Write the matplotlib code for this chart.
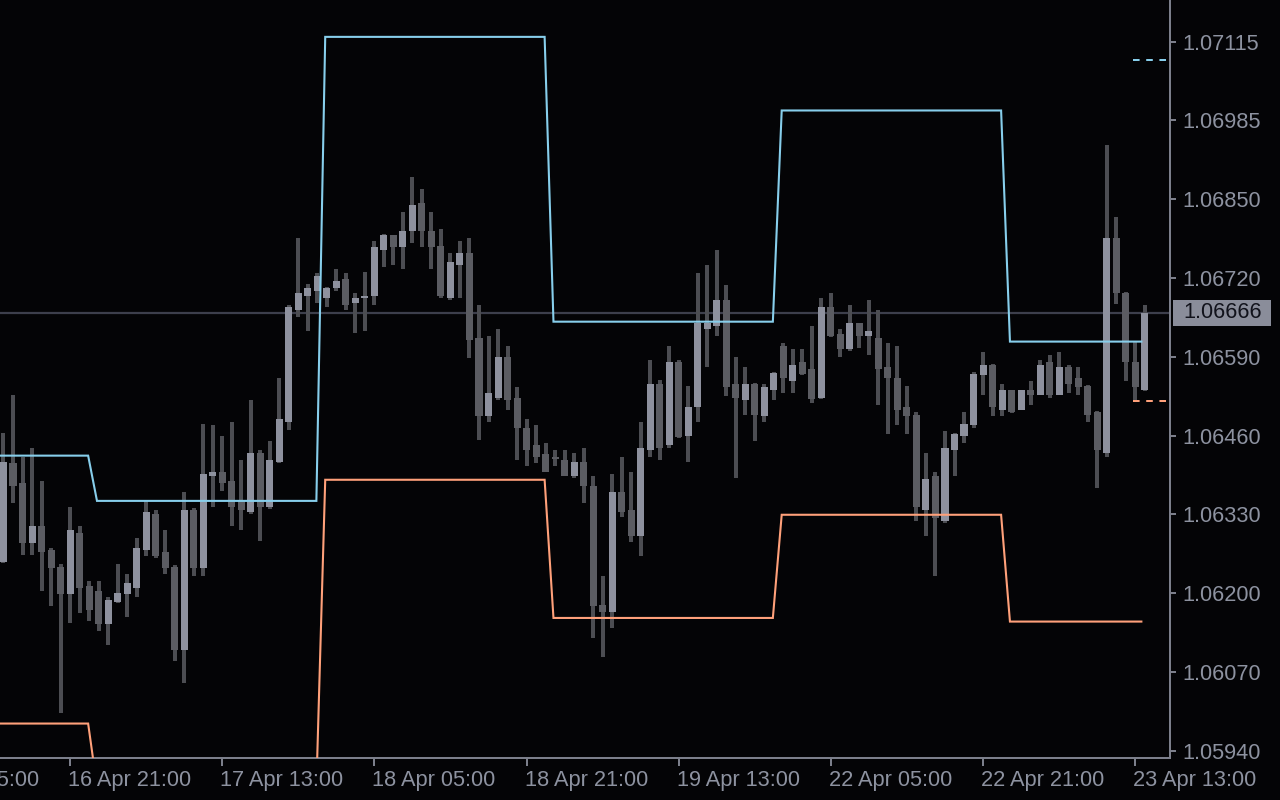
import matplotlib
matplotlib.use('Agg')
import matplotlib.pyplot as plt
import matplotlib.transforms as mtransforms
from matplotlib.patches import Rectangle
import numpy as np

# EURUSD H1 bars, 16 Apr 02:00 .. 23 Apr 14:00
opens = [1.06252, 1.06416, 1.06384, 1.06285, 1.06313, 1.06273, 1.06245, 1.06199, 1.06301, 1.06213,
         1.06205, 1.06150, 1.06187, 1.06199, 1.06210, 1.06273, 1.06333, 1.06270, 1.06245, 1.06107,
         1.06339, 1.06242, 1.06396, 1.06402, 1.06387, 1.06353, 1.06336, 1.06434, 1.06344, 1.06419,
         1.06485, 1.06671, 1.06694, 1.06702, 1.06691, 1.06707, 1.06722, 1.06682, 1.06691, 1.06694,
         1.06770, 1.06794, 1.06774, 1.06802, 1.06848, 1.06802, 1.06777, 1.06691, 1.06745, 1.06765,
         1.06624, 1.06494, 1.06525, 1.06593, 1.06525, 1.06474, 1.06447, 1.06431, 1.06426, 1.06422,
         1.06396, 1.06419, 1.06379, 1.06182, 1.06170, 1.06368, 1.06339, 1.06296, 1.06439, 1.06548,
         1.06447, 1.06585, 1.06462, 1.06510, 1.06639, 1.06644, 1.06687, 1.06548, 1.06522, 1.06548,
         1.06494, 1.06537, 1.06611, 1.06553, 1.06585, 1.06573, 1.06525, 1.06676, 1.06631, 1.06605,
         1.06648, 1.06628, 1.06624, 1.06576, 1.06557, 1.06510, 1.06497, 1.06339, 1.06396, 1.06320,
         1.06439, 1.06462, 1.06479, 1.06562, 1.06580, 1.06505, 1.06537, 1.06505, 1.06537, 1.06530,
         1.06585, 1.06530, 1.06576, 1.06557, 1.06545, 1.06502, 1.06434, 1.06790, 1.06699, 1.06585,
         1.06537]
highs = [1.06467, 1.06530, 1.06427, 1.06442, 1.06387, 1.06276, 1.06250, 1.06344, 1.06313, 1.06222,
         1.06222, 1.06194, 1.06250, 1.06233, 1.06293, 1.06353, 1.06339, 1.06305, 1.06247, 1.06368,
         1.06343, 1.06482, 1.06479, 1.06462, 1.06485, 1.06422, 1.06522, 1.06439, 1.06454, 1.06557,
         1.06679, 1.06790, 1.06714, 1.06731, 1.06708, 1.06739, 1.06731, 1.06699, 1.06734, 1.06785,
         1.06797, 1.06795, 1.06833, 1.06891, 1.06871, 1.06833, 1.06805, 1.06765, 1.06785, 1.06790,
         1.06679, 1.06628, 1.06639, 1.06611, 1.06542, 1.06490, 1.06479, 1.06450, 1.06439, 1.06439,
         1.06434, 1.06442, 1.06396, 1.06230, 1.06399, 1.06427, 1.06402, 1.06485, 1.06588, 1.06555,
         1.06611, 1.06587, 1.06545, 1.06731, 1.06745, 1.06770, 1.06711, 1.06593, 1.06576, 1.06550,
         1.06548, 1.06568, 1.06616, 1.06605, 1.06605, 1.06644, 1.06691, 1.06699, 1.06639, 1.06679,
         1.06649, 1.06687, 1.06671, 1.06616, 1.06611, 1.06545, 1.06502, 1.06434, 1.06402, 1.06470,
         1.06466, 1.06502, 1.06568, 1.06600, 1.06581, 1.06548, 1.06538, 1.06538, 1.06553, 1.06588,
         1.06596, 1.06600, 1.06580, 1.06576, 1.06546, 1.06503, 1.06943, 1.06825, 1.06700, 1.06618,
         1.06679]
lows = [1.06251, 1.06351, 1.06265, 1.06265, 1.06205, 1.06179, 1.06003, 1.06152, 1.06169, 1.06155,
        1.06139, 1.06116, 1.06184, 1.06162, 1.06194, 1.06262, 1.06260, 1.06233, 1.06088, 1.06053,
        1.06230, 1.06230, 1.06344, 1.06371, 1.06313, 1.06305, 1.06333, 1.06288, 1.06341, 1.06417,
        1.06472, 1.06659, 1.06636, 1.06682, 1.06676, 1.06702, 1.06671, 1.06633, 1.06636, 1.06679,
        1.06742, 1.06745, 1.06739, 1.06782, 1.06774, 1.06739, 1.06691, 1.06687, 1.06691, 1.06590,
        1.06455, 1.06485, 1.06522, 1.06505, 1.06422, 1.06411, 1.06416, 1.06402, 1.06411, 1.06396,
        1.06392, 1.06351, 1.06127, 1.06096, 1.06144, 1.06328, 1.06286, 1.06262, 1.06427, 1.06422,
        1.06442, 1.06459, 1.06419, 1.06485, 1.06576, 1.06628, 1.06527, 1.06392, 1.06497, 1.06454,
        1.06485, 1.06522, 1.06533, 1.06533, 1.06563, 1.06517, 1.06523, 1.06626, 1.06593, 1.06603,
        1.06608, 1.06596, 1.06513, 1.06465, 1.06479, 1.06465, 1.06320, 1.06296, 1.06230, 1.06318,
        1.06396, 1.06450, 1.06475, 1.06530, 1.06494, 1.06494, 1.06500, 1.06504, 1.06513, 1.06529,
        1.06525, 1.06529, 1.06533, 1.06530, 1.06485, 1.06376, 1.06427, 1.06681, 1.06553, 1.06522,
        1.06536]
closes = [1.06419, 1.06379, 1.06285, 1.06313, 1.06270, 1.06242, 1.06199, 1.06305, 1.06210, 1.06174,
          1.06150, 1.06190, 1.06202, 1.06218, 1.06276, 1.06336, 1.06262, 1.06242, 1.06107, 1.06339,
          1.06242, 1.06399, 1.06402, 1.06384, 1.06344, 1.06339, 1.06434, 1.06344, 1.06422, 1.06490,
          1.06676, 1.06699, 1.06707, 1.06726, 1.06707, 1.06719, 1.06679, 1.06691, 1.06694, 1.06774,
          1.06794, 1.06774, 1.06802, 1.06845, 1.06802, 1.06774, 1.06694, 1.06750, 1.06765, 1.06620,
          1.06494, 1.06533, 1.06593, 1.06522, 1.06474, 1.06439, 1.06427, 1.06402, 1.06424, 1.06396,
          1.06419, 1.06378, 1.06179, 1.06170, 1.06368, 1.06336, 1.06296, 1.06442, 1.06548, 1.06442,
          1.06585, 1.06460, 1.06510, 1.06649, 1.06649, 1.06687, 1.06542, 1.06525, 1.06548, 1.06497,
          1.06542, 1.06566, 1.06557, 1.06580, 1.06565, 1.06523, 1.06676, 1.06628, 1.06605, 1.06648,
          1.06628, 1.06636, 1.06573, 1.06557, 1.06505, 1.06494, 1.06344, 1.06391, 1.06326, 1.06442,
          1.06465, 1.06482, 1.06565, 1.06580, 1.06510, 1.06537, 1.06502, 1.06537, 1.06530, 1.06580,
          1.06530, 1.06576, 1.06548, 1.06542, 1.06497, 1.06439, 1.06790, 1.06699, 1.06585, 1.06542,
          1.06666]

# daily band indicator: bar index where each new day starts, level per day
day_starts = [10, 34, 58, 82, 106]
upper_levels = [1.06429, 1.06354, 1.07123, 1.06651, 1.07001, 1.06618]
lower_levels = [1.05985, 1.05880, 1.06389, 1.06160, 1.06331, 1.06154]
next_upper = 1.07084
next_lower = 1.06520

price_labels = ['1.05940', '1.06070', '1.06200', '1.06330', '1.06460',
                '1.06590', '1.06720', '1.06850', '1.06985', '1.07115']
time_labels = ['16 Apr 05:00', '16 Apr 21:00', '17 Apr 13:00', '18 Apr 05:00', '18 Apr 21:00',
               '19 Apr 13:00', '22 Apr 05:00', '22 Apr 21:00', '23 Apr 13:00']
time_label_bars = [-9, 7, 23, 39, 55, 71, 87, 103, 119]

BG = '#040406'
BULL = '#8e919e'
BEAR = '#5b5c62'
WICK = '#4c4d52'
AXIS = '#7c7f8b'
TEXT = '#8d92a0'
UPPER = '#87ceeb'
LOWER = '#ffa07a'
BID = '#3d3f4c'
FONT = 'Liberation Sans'
FS = 15.7

plt.rcParams['font.family'] = FONT

o = np.array(opens)
h = np.array(highs)
l = np.array(lows)
c = np.array(closes)
x = np.arange(len(c))

fig = plt.figure(figsize=(12.8, 8), dpi=100, facecolor=BG)
ax = fig.add_axes([0, 42.3 / 800, 1170 / 1280, 757.7 / 800], facecolor=BG)

ymin, ymax = 1.059284, 1.071841
ax.set_xlim(-0.368, 122.66)
ax.set_ylim(ymin, ymax)

# bid line behind the candles
ax.axhline(c[-1], color=BID, lw=1.6, zorder=1)

ax.vlines(x, l, h, color=WICK, lw=1.5, zorder=2, antialiased=False)
body_lo = np.minimum(o, c)
body_h = np.maximum(np.abs(c - o), 2.5e-5)
ax.bar(x, body_h, bottom=body_lo, width=0.74,
       color=np.where(c >= o, BULL, BEAR), lw=0, zorder=3, antialiased=False)


def band_path(levels, end_bar=119.65):
    xs = [-1.0]
    ys = [levels[0]]
    for d, prev, nxt in zip(day_starts, levels[:-1], levels[1:]):
        xs += [d - 1.1, d - 0.17]
        ys += [prev, nxt]
    xs.append(end_bar)
    ys.append(levels[-1])
    return xs, ys


for levels, col in [(upper_levels, UPPER), (lower_levels, LOWER)]:
    bx, by = band_path(levels)
    ax.plot(bx, by, color=col, lw=1.5, zorder=4, solid_joinstyle='miter')

for lvl, col in [(next_upper, UPPER), (next_lower, LOWER)]:
    ax.plot([118.8, 123], [lvl, lvl], color=col, lw=1.44, dashes=(3.3, 3.3), zorder=4)

for side in ['top', 'left']:
    ax.spines[side].set_visible(False)
for side in ['right', 'bottom']:
    ax.spines[side].set_color(AXIS)
    ax.spines[side].set_linewidth(1.44)

ax.yaxis.tick_right()
ax.set_yticks(np.linspace(float(price_labels[0]), float(price_labels[-1]), len(price_labels)))
ax.set_yticklabels(price_labels)
ax.tick_params(axis='y', direction='out', length=4.3, width=1.44, color=AXIS,
               labelcolor=TEXT, labelsize=FS, pad=4.5)

ax.set_xticks(time_label_bars[1:])
ax.set_xticklabels(time_labels[1:], ha='left')
ax.tick_params(axis='x', direction='out', length=6, width=1.44, color=AXIS,
               labelcolor=TEXT, labelsize=FS, pad=3)
shift = mtransforms.ScaledTranslation(-2 / 100, 0, fig.dpi_scale_trans)
for lab in ax.get_xticklabels():
    lab.set_transform(lab.get_transform() + shift)
# first label sits left of the visible range, only its tail shows
ax.annotate(time_labels[0], xy=(time_label_bars[0], 0), xycoords=('data', 'axes fraction'),
            xytext=(-1.4, -9), textcoords='offset points', ha='left', va='top',
            color=TEXT, fontsize=FS, annotation_clip=False)

# current price tag on the scale
k = (ymax - ymin) / 757.7
trans = mtransforms.blended_transform_factory(ax.transAxes, ax.transData)
ax.add_patch(Rectangle((1173 / 1170, c[-1] - 13 * k), 98 / 1170, 26 * k,
                       transform=trans, facecolor='#8a8d9a', edgecolor='none',
                       clip_on=False, zorder=5))
ax.annotate(f'{c[-1]:.5f}', xy=(1, c[-1]), xycoords=('axes fraction', 'data'),
            xytext=(9.4, 0), textcoords='offset points', ha='left', va='center',
            color='#12131c', fontsize=FS, annotation_clip=False, zorder=6)

fig.savefig('out.png', dpi=100, facecolor=BG)
